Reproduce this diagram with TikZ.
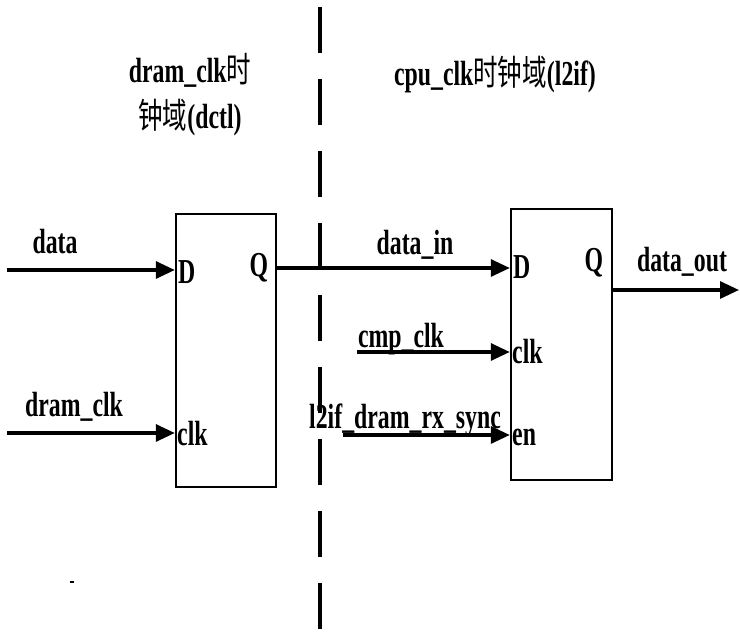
\documentclass[tikz,border=0pt]{standalone}
\usepackage{fontspec}
\setmainfont{Liberation Serif}[FakeStretch=0.68]
\newfontfamily\cjk{Noto Sans CJK SC}[FakeStretch=0.7,BoldFont={Noto Sans CJK SC}]
\usetikzlibrary{arrows.meta}
\begin{document}
\begin{tikzpicture}[x=1pt,y=-1pt,
  box/.style={draw,line width=2.4pt,minimum width=100pt,inner sep=0pt},
  sig/.style={line width=3.2pt,-{Triangle[length=19pt,width=17pt]}},
  lbl/.style={font=\fontsize{35}{38}\selectfont\bfseries,inner sep=0pt},
  pin/.style={font=\fontsize{35}{38}\selectfont\bfseries,inner sep=0pt},
  ttl/.style={font=\fontsize{35}{38}\selectfont\bfseries,inner sep=0pt,align=center}]
\useasboundingbox (0,0) rectangle (740,644);
% domain separator
\coordinate (sepT) at (320,7);
\coordinate (sepB) at (320,640);
\draw[line width=3.2pt,dash pattern=on 46pt off 26pt] (sepT) -- (sepB);
% titles
\node[ttl] (t1) at (190,70) {dram\_clk{\cjk 时}};
\node[ttl] (t2) at (190,118) {{\cjk 钟域}(dctl)};
\node[ttl] (t3) at (495,75) {cpu\_clk{\cjk 时钟域}(l2if)};
% boxes
\node[box,minimum height=273pt] (lbox) at (226,350.5) {};
\node[box,minimum width=101pt,minimum height=271pt] (rbox) at (561.5,344.5) {};
% left pins
\node[pin,anchor=west] (lD) at (178,272) {D};
\node[pin] (lQ) at (259,268) {Q};
\node[pin,anchor=west] (lclk) at (177,434) {clk};
% right pins
\node[pin,anchor=west] (rD) at (513,267) {D};
\node[pin] (rQ) at (594,263) {Q};
\node[pin,anchor=west] (rclk) at (512,352) {clk};
\node[pin,anchor=west] (ren) at (512,437) {en};
% left inputs
\coordinate (inData) at (7,270);
\coordinate (inClk) at (7,433);
\draw[sig] (inData) -- (inData -| lbox.west);
\draw[sig] (inClk) -- (inClk -| lbox.west);
\node[lbl] (ldata) at (55,242) {data};
\node[lbl] (ldclk) at (74,407) {dram\_clk};
% data_in
\coordinate (qL) at (276,268);
\draw[sig] (qL) -- (qL -| rbox.west);
\node[lbl] (ldin) at (415,245) {data\_in};
% cmp_clk
\coordinate (cmpS) at (357,352);
\draw[sig] (cmpS) -- (cmpS -| rbox.west);
\node[lbl] (lcmp) at (401,339) {cmp\_clk};
% l2if_dram_rx_sync
\coordinate (syncS) at (343,435);
\draw[sig] (syncS) -- (syncS -| rbox.west);
\node[lbl,anchor=west] (lsync) at (309,420) {l2if\_dram\_rx\_sync};
% data_out
\coordinate (qR) at (rbox.east |- 0,290);
\coordinate (outE) at (739,290);
\draw[sig] (qR) -- (outE);
\node[lbl] (ldout) at (682,262) {data\_out};
% stray dot
\fill (70,581) rectangle (74,583);
\end{tikzpicture}
\end{document}
